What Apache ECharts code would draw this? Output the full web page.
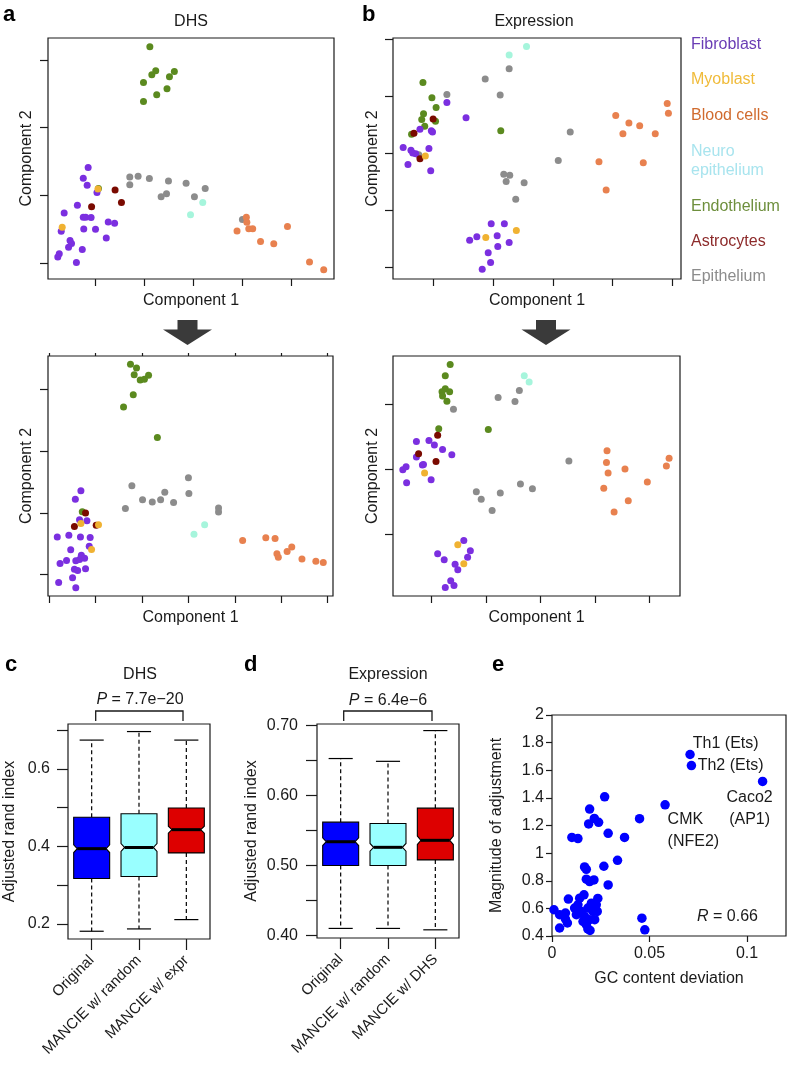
<!DOCTYPE html>
<html><head><meta charset="utf-8">
<script src="https://cdn.jsdelivr.net/npm/echarts@6/dist/echarts.min.js"></script>
<style>html,body{margin:0;padding:0;background:#fff}#chart{width:788px;height:1079px}</style>
</head><body><div id="chart"></div><script>
const FONT = '"Liberation Sans", Arial, Helvetica, sans-serif';

// ---- cell types (index used as 3rd value in the scatter arrays) ----
const cellTypes = ['Fibroblast', 'Myoblast', 'Blood cells', 'Neuro\nepithelium', 'Endothelium', 'Astrocytes', 'Epithelium'];

// ---- panel a (DHS), original: [component1, component2, type] ----
const dhsOriginal = [
  [-2.14,-0.18,0],[-2.24,-0.50,0],[-2.16,-0.71,0],[-1.96,-0.92,0],[-2.36,-1.30,0],[-2.63,-1.53,0],[-2.24,-1.65,0],[-2.19,-1.65,0],
  [-2.08,-1.66,0],[-2.69,-2.07,0],[-2.23,-2.00,0],[-1.99,-2.01,0],[-1.73,-1.79,0],[-1.60,-1.83,0],[-1.77,-2.27,0],[-2.51,-2.34,0],
  [-2.48,-2.43,0],[-2.54,-2.54,0],[-2.26,-2.61,0],[-2.73,-2.73,0],[-2.76,-2.83,0],[-2.38,-2.99,0],
  [-1.94,-0.82,1],[-2.67,-1.95,1],
  [1.09,-1.65,2],[1.10,-1.80,2],[1.14,-1.99,2],[1.22,-1.99,2],[0.90,-2.06,2],[1.38,-2.37,2],[1.65,-2.44,2],[1.93,-1.93,2],[2.38,-2.98,2],[2.67,-3.21,2],
  [0.20,-1.22,3],[-0.05,-1.58,3],
  [-0.88,3.39,4],[-1.01,2.33,4],[-0.84,2.56,4],[-0.76,2.68,4],[-0.48,2.50,4],[-0.38,2.66,4],[-0.53,2.15,4],[-0.74,1.97,4],[-1.01,1.77,4],[-1.93,-0.80,4],
  [-1.59,-0.85,5],[-1.46,-1.22,5],[-2.07,-1.34,5],
  [-1.29,-0.46,6],[-1.12,-0.44,6],[-0.89,-0.51,6],[-1.29,-0.69,6],[-0.50,-0.58,6],[-0.14,-0.65,6],[-0.65,-1.05,6],[-0.54,-0.96,6],[0.03,-1.05,6],[0.25,-0.80,6],[1.01,-1.72,6]
];
// ---- panel b (Expression), original ----
const exprOriginal = [
  [-1.77,0.90,0],[-1.45,0.63,0],[-2.22,0.43,0],[-2.03,0.40,0],[-2.01,0.38,0],[-2.50,0.11,0],[-2.37,0.06,0],[-2.34,0.01,0],[-2.29,0.00,0],
  [-2.07,0.09,0],[-2.42,-0.19,0],[-2.04,-0.30,0],[-1.03,-1.23,0],[-0.81,-1.23,0],[-1.27,-1.46,0],[-1.39,-1.52,0],[-0.93,-1.44,0],
  [-0.73,-1.56,0],[-0.92,-1.63,0],[-1.08,-1.74,0],[-1.04,-1.91,0],[-1.18,-2.03,0],
  [-2.13,-0.04,1],[-1.12,-1.47,1],[-0.61,-1.35,1],
  [1.91,0.88,2],[1.93,0.71,2],[1.05,0.67,2],[1.27,0.54,2],[1.45,0.49,2],[1.17,0.35,2],[1.71,0.35,2],[0.77,-0.14,2],[1.51,-0.16,2],[0.89,-0.64,2],
  [-0.73,1.73,3],[-0.44,1.88,3],
  [-2.17,1.25,4],[-2.02,0.98,4],[-1.95,0.81,4],[-2.16,0.70,4],[-2.19,0.60,4],[-1.96,0.57,4],[-2.14,0.48,4],[-2.36,0.34,4],[-0.87,0.40,4],
  [-2.00,0.61,5],[-2.32,0.36,5],[-2.22,-0.09,5],
  [-0.73,1.49,6],[-1.13,1.31,6],[-0.88,1.03,6],[-1.77,1.04,6],[0.29,0.38,6],[0.09,-0.12,6],[-0.82,-0.36,6],[-0.72,-0.38,6],
  [-0.78,-0.49,6],[-0.48,-0.51,6],[-0.62,-0.80,6],[-2.24,-0.02,6]
];
// ---- panel a (DHS), after MANCIE ----
const dhsAdjusted = [
  [-2.32,-0.28,0],[-2.44,-0.55,0],[-2.35,-1.22,0],[-2.19,-1.25,0],[-2.83,-1.78,0],[-2.58,-1.72,0],[-2.33,-1.78,0],[-2.12,-1.79,0],
  [-2.14,-2.08,0],[-2.54,-2.19,0],[-2.63,-2.54,0],[-2.77,-2.64,0],[-2.43,-2.55,0],[-2.35,-2.51,0],[-2.31,-2.37,0],[-2.24,-2.47,0],
  [-2.46,-2.82,0],[-2.39,-2.86,0],[-2.22,-2.81,0],[-2.50,-3.10,0],[-2.80,-3.25,0],[-2.43,-3.42,0],
  [-2.32,-1.34,1],[-1.94,-1.38,1],[-2.09,-2.18,1],
  [1.17,-1.89,2],[1.67,-1.80,2],[1.87,-1.83,2],[2.23,-2.10,2],[2.13,-2.25,2],[1.91,-2.32,2],[1.94,-2.43,2],[2.45,-2.49,2],[2.75,-2.56,2],[2.91,-2.60,2],
  [0.35,-1.38,3],[0.12,-1.69,3],
  [-1.25,3.82,4],[-1.12,3.70,4],[-1.17,3.48,4],[-1.04,3.31,4],[-0.95,3.34,4],[-0.86,3.47,4],[-1.19,2.83,4],[-1.40,2.44,4],[-0.67,1.45,4],[-2.29,-0.96,4],
  [-2.22,-1.00,5],[-2.46,-1.44,5],[-1.99,-1.40,5],
  [-1.22,-0.12,6],[0.00,0.14,6],[-1.36,-0.85,6],[-0.99,-0.57,6],[-0.78,-0.64,6],[-0.60,-0.57,6],[-0.51,-0.33,6],[-0.32,-0.66,6],
  [0.01,-0.37,6],[0.65,-0.84,6],[0.65,-0.97,6]
];
// ---- panel b (Expression), after MANCIE ----
const exprAdjusted = [
  [-2.28,0.87,0],[-2.05,0.90,0],[-1.95,0.76,0],[-1.80,0.62,0],[-1.63,0.46,0],[-2.28,0.39,0],[-2.17,0.14,0],[-2.15,0.16,0],[-2.47,0.09,0],
  [-2.53,0.00,0],[-2.46,-0.40,0],[-2.01,-0.31,0],[-1.41,-2.18,0],[-1.29,-2.50,0],[-1.34,-2.70,0],[-1.89,-2.59,0],[-1.77,-2.77,0],
  [-1.57,-2.91,0],[-1.52,-3.08,0],[-1.65,-3.42,0],[-1.59,-3.57,0],[-1.75,-3.63,0],
  [-2.13,-0.10,1],[-1.52,-2.31,1],[-1.41,-2.90,1],
  [1.22,0.58,2],[1.21,0.22,2],[1.24,-0.10,2],[1.55,0.02,2],[2.36,0.35,2],[2.31,0.11,2],[1.96,-0.38,2],[1.16,-0.57,2],[1.61,-0.96,2],[1.35,-1.30,2],
  [-0.30,2.89,3],[-0.21,2.70,3],
  [-1.66,3.24,4],[-1.75,2.89,4],[-1.75,2.49,4],[-1.67,2.40,4],[-1.81,2.40,4],[-1.80,2.27,4],[-1.72,2.11,4],[-1.87,1.26,4],[-0.96,1.24,4],
  [-1.89,1.06,5],[-2.24,0.49,5],[-1.92,0.25,5],
  [-1.60,1.86,6],[-0.78,2.22,6],[-0.39,2.44,6],[-0.47,2.10,6],[0.52,0.27,6],[-1.18,-0.68,6],[-1.09,-0.91,6],[-0.74,-0.72,6],
  [-0.37,-0.44,6],[-0.15,-0.59,6],[-0.89,-1.26,6]
];

// ---- panel c / d boxplots: [lower whisker, Q1, median, Q3, upper whisker] ----
const cCategories = ['Original', 'MANCIE w/ random', 'MANCIE w/ expr'];
const cStats = [[0.181,0.317,0.394,0.475,0.674],[0.187,0.322,0.397,0.484,0.696],[0.211,0.383,0.443,0.499,0.674]];
const cNotch = [0.010, 0.010, 0.009];
const dCategories = ['Original', 'MANCIE w/ random', 'MANCIE w/ DHS'];
const dStats = [[0.410,0.500,0.534,0.562,0.653],[0.410,0.500,0.526,0.560,0.649],[0.408,0.508,0.536,0.582,0.693]];
const dNotch = [0.0055, 0.0055, 0.006];

// ---- panel e ----
const gcDeviation = [0.0708,0.0715,0.108,0.058,0.0449,0.027,0.0193,0.0217,0.0239,0.0188,0.0288,0.0372,0.0102,0.0133,0.0336,
  0.0167,0.0176,0.0266,0.0176,0.0193,0.0215,0.0288,0.0084,0.0235,0.0461,0.0476,0.0164,0.0142,0.001,0.0039,0.0069,0.0069,
  0.0079,0.0039,0.0116,0.0133,0.0150,0.0125,0.0167,0.0184,0.0202,0.0227,0.0210,0.0232,0.0193,0.0219,0.0176,0.0184,0.0159,0.0195];
const adjustment = [1.714,1.634,1.519,1.350,1.249,1.408,1.319,1.251,1.223,1.211,1.143,1.114,1.114,1.105,0.948,
  0.900,0.883,0.905,0.811,0.794,0.806,0.770,0.667,0.672,0.529,0.445,0.698,0.674,0.590,0.554,0.566,0.523,
  0.494,0.458,0.602,0.626,0.578,0.554,0.542,0.602,0.638,0.626,0.578,0.578,0.518,0.518,0.482,0.451,0.505,0.440];
const pointNames = ['Th1 (Ets)', 'Th2 (Ets)', 'Caco2\n(AP1)', 'CMK\n(NFE2)'];

// ---- tick values ----
const aTopXTicks = [-2,-1,0,1,2], aTopYTicks = [-3,-1,1,3];
const bTopXTicks = [-2,-1,0,1,2], bTopYTicks = [-2,-1,0,1,2];
const aBotXTicks = [-3,-2,-1,0,1,2,3], aBotYTicks = [-3,-1,1,3];
const bBotXTicks = [-2,-1,0,1,2], bBotYTicks = [-2,0,2];
const cYTicks = [0.2,0.3,0.4,0.5,0.6,0.7], cYLabels = [0.2,0.4,0.6];
const dYTicks = [0.40,0.45,0.50,0.55,0.60,0.65,0.70], dYLabels = [0.40,0.50,0.60,0.70];
const eXTicks = [0,0.05,0.1], eYTicks = [0.4,0.6,0.8,1,1.2,1.4,1.6,1.8,2];

// ---- styles ----
const dotColors = ['#7b2fe0','#f0b232','#e8814f','#a6f5dc','#5b8a1f','#7a0a00','#8c8c8c'];
const textColors = ['#6a3db5','#f0bb3a','#d06b2e','#a8e4ee','#6e8f3d','#8d2b2b','#8c8c8c'];
const drawOrder = [6,4,0,2,3,5,1];
const boxColors = ['#0000ff','#99ffff','#dd0000'];
const INK = '#1a1a1a';

const chart = echarts.init(document.getElementById('chart'), null, {renderer:'canvas'});

const grids = [
  {left:48, top:38, width:286, height:241},
  {left:393, top:38, width:288, height:241},
  {left:48, top:356, width:285, height:240},
  {left:393, top:356, width:287, height:240},
  {left:68, top:724, width:142, height:215},
  {left:317, top:724, width:142, height:214},
  {left:552, top:715, width:234, height:221}
].map(g => Object.assign({show:true, borderColor:INK, borderWidth:1.2, backgroundColor:'transparent', containLabel:false, outerBoundsMode:'none'}, g));

const nameStyle = {fontSize:16, color:INK, fontFamily:FONT};
function compAxis(grid, min, max, ticks, name, gap, len) {
  return {type:'value', gridIndex:grid, min, max, name, nameLocation:'middle', nameGap:gap, nameTextStyle:nameStyle,
    nameMoveOverlap:false,
    axisLine:{show:false, onZero:false}, splitLine:{show:false},
    axisTick:{show:true, inside:false, length:len, customValues:ticks, lineStyle:{color:INK, width:1.2}},
    axisLabel:{show:false, customValues:ticks}};
}
function valAxis(grid, min, max, ticks, labels, fmt, name, gap, len, margin) {
  return {type:'value', gridIndex:grid, min, max, name, nameLocation:'middle', nameGap:gap, nameTextStyle:nameStyle,
    nameMoveOverlap:false,
    axisLine:{show:false, onZero:false}, splitLine:{show:false},
    axisTick:{show:true, inside:false, length:len, customValues:ticks, lineStyle:{color:INK, width:1.2}},
    axisLabel:{show:true, customValues:labels, formatter:fmt, fontSize:16, color:INK, fontFamily:FONT, margin:margin}};
}
function catAxis(grid, cats) {
  return {type:'category', gridIndex:grid, data:cats, boundaryGap:true,
    axisLine:{show:false, onZero:false}, splitLine:{show:false},
    axisTick:{show:true, inside:false, alignWithLabel:true, length:11, interval:0, lineStyle:{color:INK, width:1.2}},
    axisLabel:{show:true, interval:0, rotate:45, margin:19, fontSize:15, color:INK, fontFamily:FONT}};
}

const xAxes = [
  compAxis(0, -2.96, 2.88, aTopXTicks, 'Component 1', 14, 7),
  compAxis(1, -2.67, 2.14, bTopXTicks, 'Component 1', 14, 7),
  compAxis(2, -3.03, 3.12, aBotXTicks, 'Component 1', 14, 7),
  compAxis(3, -2.71, 2.56, bBotXTicks, 'Component 1', 14, 7),
  catAxis(4, cCategories),
  catAxis(5, dCategories),
  valAxis(6, 0, 0.12, eXTicks, eXTicks, v => String(v), 'GC content deviation', 35, 6, 10),
  Object.assign(compAxis(2, -3.03, 3.12, aBotXTicks, '', 14, 3), {position:'top'})
];
const yAxes = [
  compAxis(0, -3.48, 3.65, aTopYTicks, 'Component 2', 13, 8),
  compAxis(1, -2.20, 2.03, bTopYTicks, 'Component 2', 12, 8),
  compAxis(2, -3.69, 4.09, aBotYTicks, 'Component 2', 13, 8),
  compAxis(3, -3.89, 3.50, bBotYTicks, 'Component 2', 12, 8),
  valAxis(4, 0.161, 0.7155, cYTicks, cYLabels, v => v.toFixed(1), 'Adjusted rand index', 50, 11, 18),
  valAxis(5, 0.3963, 0.7024, dYTicks, dYLabels, v => v.toFixed(2), 'Adjusted rand index', 57, 11, 19),
  valAxis(6, 0.4, 2, eYTicks, eYTicks, v => String(+v.toFixed(1)), 'Magnitude of adjustment', 47, 6, 8)
];

const series = [];
[dhsOriginal, exprOriginal, dhsAdjusted, exprAdjusted].forEach((pts, g) => {
  drawOrder.forEach(t => {
    series.push({type:'scatter', xAxisIndex:g, yAxisIndex:g, symbol:'circle', symbolSize:7, clip:false,
      itemStyle:{color:dotColors[t], opacity:1}, emphasis:{disabled:true}, silent:true,
      data: pts.filter(p => p[2] === t).map(p => [p[0], p[1]])});
  });
});

function boxSeries(g, stats, notch) {
  return {type:'custom', xAxisIndex:g, yAxisIndex:g, silent:true,
    data: stats.map((s, i) => [i, s[0], s[1], s[2], s[3], s[4], notch[i]]),
    encode:{x:0, y:[1,2,3,4,5]},
    renderItem: (params, api) => {
      const i = api.value(0);
      const lo = api.value(1), q1 = api.value(2), med = api.value(3), q3 = api.value(4), hi = api.value(5), n = api.value(6);
      const band = api.size([1, 0])[0];
      const cx = api.coord([i, med])[0];
      const Y = v => api.coord([i, v])[1];
      const w = band * 0.38, cw = w * 0.67, d = w * 0.2;
      const solid = {stroke:'#000', lineWidth:1.2};
      const dash = {stroke:'#000', lineWidth:1.2, lineDash:[4, 3]};
      return {type:'group', children:[
        {type:'line', shape:{x1:cx, y1:Y(q3), x2:cx, y2:Y(hi)}, style:dash},
        {type:'line', shape:{x1:cx, y1:Y(q1), x2:cx, y2:Y(lo)}, style:dash},
        {type:'line', shape:{x1:cx-cw, y1:Y(hi), x2:cx+cw, y2:Y(hi)}, style:solid},
        {type:'line', shape:{x1:cx-cw, y1:Y(lo), x2:cx+cw, y2:Y(lo)}, style:solid},
        {type:'polygon', shape:{points:[
          [cx-w, Y(q3)], [cx+w, Y(q3)], [cx+w, Y(med+n)], [cx+w-d, Y(med)], [cx+w, Y(med-n)],
          [cx+w, Y(q1)], [cx-w, Y(q1)], [cx-w, Y(med-n)], [cx-w+d, Y(med)], [cx-w, Y(med+n)]]},
          style:{fill:boxColors[i], stroke:'#000', lineWidth:1.1}},
        {type:'line', shape:{x1:cx-w+d, y1:Y(med), x2:cx+w-d, y2:Y(med)}, style:{stroke:'#000', lineWidth:3}}
      ]};
    }};
}
series.push(boxSeries(4, cStats, cNotch));
series.push(boxSeries(5, dStats, dNotch));

const labelPlacement = [
  {position:'right', distance:0, offset:[-2, -11], align:'left'},
  {position:'right', distance:0, offset:[1.5, 0], align:'left'},
  {position:'inside', offset:[-13, 27], align:'center', lineHeight:22},
  {position:'inside', offset:[2.5, 26], align:'left', lineHeight:22}
];
series.push({type:'scatter', xAxisIndex:6, yAxisIndex:6, symbol:'circle', symbolSize:9.5, clip:false, silent:true,
  itemStyle:{color:'#0000ff', opacity:1}, emphasis:{disabled:true},
  data: gcDeviation.map((x, i) => {
    const item = {value:[x, adjustment[i]]};
    if (i < pointNames.length) {
      item.name = pointNames[i];
      item.label = Object.assign({show:true, formatter:'{b}', fontSize:16, color:INK, fontFamily:FONT}, labelPlacement[i]);
    }
    return item;
  })});

function txt(text, x, y, o) {
  o = o || {};
  return {type:'text', x, y, silent:true, style:{text, fill:o.fill || INK, fontSize:o.size || 16, fontFamily:FONT,
    fontWeight:o.weight || 'normal', align:o.align || 'center', verticalAlign:'middle', lineHeight:o.lh || undefined,
    rich:o.rich}};
}
const italicRich = {i:{fontStyle:'italic', fontSize:16, fontFamily:FONT, fill:INK}, n:{fontSize:16, fontFamily:FONT, fill:INK}};
function arrow(cx) {
  return {type:'polygon', silent:true, shape:{points:[[cx-10,320],[cx+10,320],[cx+10,329.5],[cx+24.5,329.5],[cx,345],[cx-24.5,329.5],[cx-10,329.5]]},
    style:{fill:'#3a3a3a'}};
}
function bracket(x1, x2) {
  return {type:'polyline', silent:true, shape:{points:[[x1,721],[x1,711],[x2,711],[x2,721]]}, style:{stroke:INK, lineWidth:1.3, fill:null}};
}

const legendY = [45, 80, 116, 161.5, 207, 242, 277];
const graphics = [
  txt('a', 3, 15, {size:22, weight:'bold', align:'left', fill:'#000'}),
  txt('b', 362, 15, {size:22, weight:'bold', align:'left', fill:'#000'}),
  txt('c', 5, 665, {size:22, weight:'bold', align:'left', fill:'#000'}),
  txt('d', 244, 665, {size:22, weight:'bold', align:'left', fill:'#000'}),
  txt('e', 492, 665, {size:22, weight:'bold', align:'left', fill:'#000'}),
  txt('DHS', 191, 22),
  txt('Expression', 534, 22),
  txt('DHS', 140, 675),
  txt('Expression', 388, 675),
  txt('{i|P}{n| = 7.7e\u221220}', 140, 700, {rich:italicRich}),
  txt('{i|P}{n| = 6.4e\u22126}', 388, 701, {rich:italicRich}),
  txt('{i|R}{n| = 0.66}', 697, 917, {rich:italicRich, align:'left'}),
  arrow(187.5), arrow(546),
  bracket(95.7, 183), bracket(343.7, 432)
];
cellTypes.forEach((c, t) => graphics.push(txt(c, 691, legendY[t], {fill:textColors[t], align:'left', lh:19})));

chart.setOption({
  animation:false,
  backgroundColor:'#fff',
  textStyle:{fontFamily:FONT},
  grid:grids,
  xAxis:xAxes,
  yAxis:yAxes,
  series:series,
  graphic:{elements:graphics}
});
</script></body></html>
